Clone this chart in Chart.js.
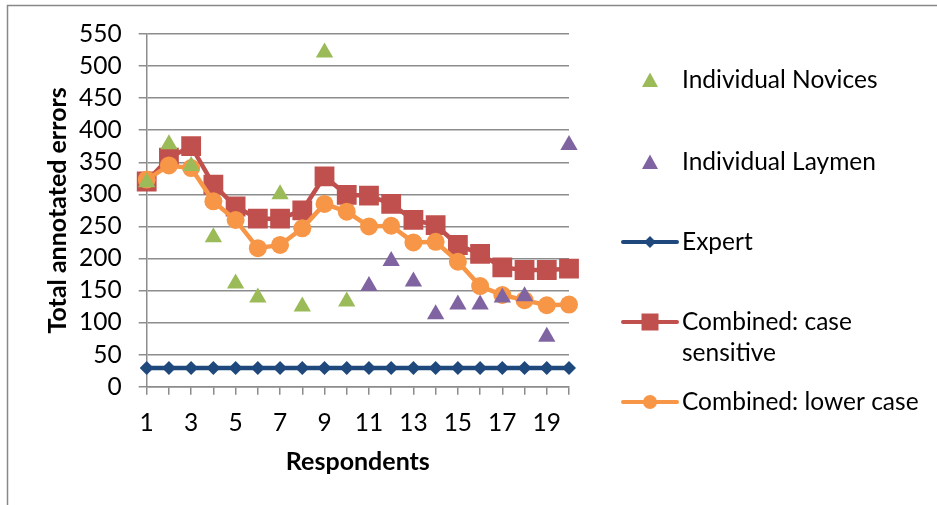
<!DOCTYPE html>
<html>
<head>
<meta charset="utf-8">
<script src="https://cdn.jsdelivr.net/npm/chart.js@4.4.1/dist/chart.umd.min.js"></script>
<style>
  html, body { margin: 0; padding: 0; background: #fff; }
  #wrap { position: relative; width: 937px; height: 505px; }
</style>
</head>
<body>
<div id="wrap"><canvas id="c" width="937" height="505"></canvas></div>
<script>
// Respondent numbers along the x axis
const respondents = ['1','2','3','4','5','6','7','8','9','10','11','12','13','14','15','16','17','18','19','20'];

// Total annotated errors per respondent
const expert = [29,29,29,29,29,29,29,29,29,29,29,29,29,29,29,29,29,29,29,29];
const combinedCaseSensitive = [320,357,375,315,281,262,262,275,328,299,298,285,260,252,221,207,186,182,182,184];
const combinedLowerCase = [323,345,341,289,260,216,221,247,285,273,250,251,225,226,195,157,143,135,127,128];
const individualNovices = [319,378,344,233,161,139,300,125,521,133,null,null,null,null,null,null,null,null,null,null];
const individualLaymen = [null,null,null,null,null,null,null,null,null,null,157,196,164,113,128,128,139,141,78,377];

// Y axis ticks
const yTicks = [0,50,100,150,200,250,300,350,400,450,500,550];

const FONT = 'Lato, "Open Sans", sans-serif';
const GRID = '#8c8c8c';
const C_NOV = '#9BBB59', C_LAY = '#8064A2', C_EXP = '#1F497D', C_CASE = '#C0504D', C_LOW = '#F79646';

// Legend entries drawn at the right of the plot
const legendEntries = [
  { text: ['Individual Novices'], color: C_NOV, marker: 'triangle', line: false },
  { text: ['Individual Laymen'], color: C_LAY, marker: 'triangle', line: false },
  { text: ['Expert'], color: C_EXP, marker: 'diamond', line: true },
  { text: ['Combined: case', 'sensitive'], color: C_CASE, marker: 'square', line: true },
  { text: ['Combined: lower case'], color: C_LOW, marker: 'circle', line: true }
];

function drawMarker(ctx, kind, x, y, color) {
  ctx.save();
  ctx.fillStyle = color;
  ctx.beginPath();
  if (kind === 'triangle') {
    ctx.moveTo(x, y - 7.5); ctx.lineTo(x + 8, y + 7); ctx.lineTo(x - 8, y + 7); ctx.closePath();
  } else if (kind === 'diamond') {
    ctx.moveTo(x, y - 6); ctx.lineTo(x + 6, y); ctx.lineTo(x, y + 6); ctx.lineTo(x - 6, y); ctx.closePath();
  } else if (kind === 'square') {
    ctx.rect(x - 8.5, y - 8.5, 17, 17);
  } else {
    ctx.arc(x, y, 7, 0, Math.PI * 2);
  }
  ctx.fill();
  ctx.restore();
}

const framePlugin = {
  id: 'frame',
  beforeDraw(chart) {
    const ctx = chart.ctx;
    ctx.save();
    ctx.strokeStyle = '#888';
    ctx.lineWidth = 1.5;
    ctx.beginPath();
    ctx.moveTo(7.5, 505);
    ctx.lineTo(7.5, 5.5);
    ctx.lineTo(937, 5.5);
    ctx.stroke();
    ctx.restore();
  }
};

const legendPlugin = {
  id: 'sideLegend',
  afterDraw(chart) {
    const ctx = chart.ctx;
    const rows = [80, 162, 242, 322, 402];
    ctx.save();
    ctx.font = '24.5px ' + FONT;
    ctx.textBaseline = 'middle';
    ctx.fillStyle = '#000';
    legendEntries.forEach((e, i) => {
      const y = rows[i];
      if (e.line) {
        ctx.strokeStyle = e.color;
        ctx.lineWidth = 4;
        ctx.lineCap = 'round';
        ctx.beginPath();
        ctx.moveTo(623, y); ctx.lineTo(677, y);
        ctx.stroke();
      }
      drawMarker(ctx, e.marker, 650, y, e.color);
      ctx.fillStyle = '#000';
      e.text.forEach((t, k) => ctx.fillText(t, 682, y + k * 31));
    });
    ctx.restore();
  }
};

const triangleStyle = (color) => ({
  type: 'line', showLine: false,
  pointStyle: 'triangle', pointRadius: 10, pointHoverRadius: 10,
  backgroundColor: color, borderColor: color, pointBorderWidth: 0
});

new Chart(document.getElementById('c'), {
  type: 'line',
  data: {
    labels: respondents,
    datasets: [
      Object.assign({ label: 'Individual Novices', data: individualNovices }, triangleStyle(C_NOV)),
      Object.assign({ label: 'Individual Laymen', data: individualLaymen }, triangleStyle(C_LAY)),
      { label: 'Combined: lower case', data: combinedLowerCase, borderColor: C_LOW, backgroundColor: C_LOW,
        borderWidth: 4.5, pointStyle: 'circle', pointRadius: 9, pointBorderWidth: 0, tension: 0 },
      { label: 'Combined: case sensitive', data: combinedCaseSensitive, borderColor: C_CASE, backgroundColor: C_CASE,
        borderWidth: 4.5, pointStyle: 'rect', pointRadius: 14, pointBorderWidth: 0, tension: 0 },
      { label: 'Expert', data: expert, borderColor: C_EXP, backgroundColor: C_EXP,
        borderWidth: 4.5, pointStyle: 'rectRot', pointRadius: 7, pointBorderWidth: 0, tension: 0 }
    ]
  },
  options: {
    responsive: false,
    animation: false,
    devicePixelRatio: 1,
    layout: { padding: { left: 0, top: 34, right: 368, bottom: 0 } },
    plugins: { legend: { display: false }, tooltip: { enabled: false } },
    scales: {
      x: {
        type: 'category',
        offset: false,
        afterFit(scale) { scale.height = 118.3; },
        grid: { display: true, drawOnChartArea: false, drawTicks: true, tickLength: 8, color: GRID, lineWidth: 1.5 },
        border: { display: true, color: GRID, width: 1.5 },
        ticks: {
          autoSkip: false, maxRotation: 0, padding: 14, color: '#000',
          font: { family: FONT, size: 24.5 },
          callback: function (v, i) { return i % 2 === 0 ? this.getLabelForValue(v) : ''; }
        },
        title: { display: true, text: 'Respondents', color: '#000', font: { family: FONT, size: 25, weight: 'bold' }, padding: { top: 0, bottom: 28 } }
      },
      y: {
        min: 0, max: 550,
        afterFit(scale) { scale.width = 146.7; },
        afterBuildTicks(scale) { scale.ticks = yTicks.map(v => ({ value: v })); },
        grid: { color: GRID, lineWidth: 1.5, tickLength: 8, drawTicks: true },
        border: { display: true, color: GRID, width: 1.5 },
        ticks: { autoSkip: false, padding: 17, color: '#000', font: { family: FONT, size: 24.5 } },
        title: { display: true, text: 'Total annotated errors', color: '#000', font: { family: FONT, size: 25, weight: 'bold' }, padding: { top: 43, bottom: 0 } }
      }
    }
  },
  plugins: [framePlugin, legendPlugin]
});
</script>
</body>
</html>
